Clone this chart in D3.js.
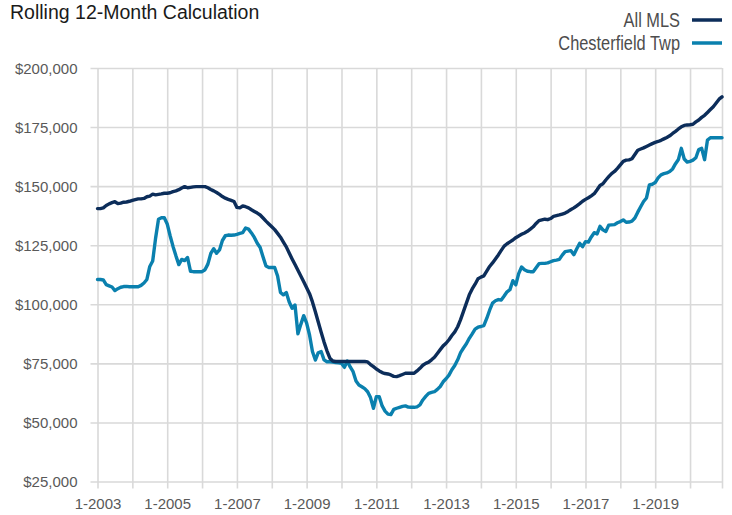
<!DOCTYPE html>
<html>
<head>
<meta charset="utf-8">
<script src="https://cdn.jsdelivr.net/npm/d3@7"></script>
<style>
	html, body { margin: 0; padding: 0; background: #fff; }
	svg { display: block; font-family: "Liberation Sans", Arial, sans-serif; }
	.title { font-size: 19.5px; fill: #1a1a1a; }
	.legend text { font-size: 20px; fill: #4d4d4d; }
	.axis text { font-size: 15px; fill: #595959; }
	.axis line { stroke: #d9d9d9; stroke-width: 1.6; }
	.axis path { display: none; }
	.series { fill: none; stroke-width: 3.4; stroke-linejoin: round; stroke-linecap: round; }
</style>
</head>
<body>
<div id="chart"></div>
<script>
// monthly values, Jan 2003 .. Dec 2020, in $ thousands
const startYear = 2003;

const allMls = [
	140.5, 140.5, 140.8, 141.8, 142.5, 143.0, 143.4, 142.6, 142.8, 143.2, 143.3, 143.6,
	144.0, 144.3, 144.6, 144.6, 144.8, 145.5, 145.8, 146.6, 146.3, 146.5, 146.7, 147.0,
	147.0, 147.2, 147.7, 148.0, 148.5, 149.2, 149.8, 149.3, 149.5, 149.7, 149.8, 149.8,
	149.8, 149.8, 149.3, 148.6, 148.0, 147.3, 146.5, 145.6, 144.9, 144.4, 144.0, 143.5,
	141.0, 140.8, 141.6, 141.3, 140.8, 140.0, 139.3, 138.6, 137.8, 136.5, 135.2, 134.0,
	132.8, 131.6, 130.0, 128.4, 126.3, 124.3, 121.7, 119.2, 116.8, 114.4, 112.0, 109.5,
	107.0, 104.5, 101.0, 96.8, 92.5, 88.2, 84.0, 80.3, 77.2, 76.0, 75.8, 75.8,
	75.8, 75.8, 75.8, 75.8, 75.8, 75.8, 75.8, 75.8, 75.8, 75.6, 74.5, 73.6,
	72.6, 71.8, 71.1, 70.7, 70.5, 70.1, 69.5, 69.4, 69.8, 70.3, 70.8, 70.8,
	70.8, 70.8, 71.8, 72.9, 74.2, 75.0, 75.5, 76.5, 77.6, 79.2, 80.8, 82.4,
	83.5, 85.0, 86.8, 88.3, 90.5, 93.5, 97.0, 100.5, 104.0, 106.5, 108.5, 110.8,
	111.5, 112.0, 114.0, 116.0, 117.5, 119.2, 120.9, 122.8, 124.6, 125.6, 126.4, 127.2,
	128.2, 128.9, 129.6, 130.2, 130.9, 131.8, 132.8, 134.2, 135.4, 135.7, 136.0, 135.8,
	136.3, 137.2, 137.5, 137.8, 138.2, 138.6, 139.3, 140.1, 140.8, 141.7, 142.6, 143.6,
	144.4, 145.1, 145.9, 146.8, 148.5, 150.3, 151.0, 152.6, 154.0, 155.3, 156.2, 157.5,
	159.0, 160.5, 161.0, 161.1, 161.6, 163.4, 165.2, 165.7, 166.2, 166.8, 167.4, 168.0,
	168.5, 168.9, 169.4, 170.0, 170.6, 171.3, 172.3, 173.2, 174.2, 175.1, 175.7, 175.9,
	176.0, 176.2, 177.2, 178.0, 179.1, 180.0, 181.2, 182.4, 183.6, 185.2, 186.8, 187.8
];

const chesterfield = [
	110.5, 110.5, 110.3, 108.3, 107.8, 107.3, 105.8, 106.6, 107.2, 107.5, 107.6, 107.4,
	107.4, 107.4, 107.4, 108.0, 109.0, 110.5, 116.0, 118.3, 128.0, 136.0, 136.6, 136.6,
	134.0, 129.0, 124.5, 120.5, 116.8, 119.0, 118.5, 119.8, 114.0, 113.8, 113.8, 113.8,
	113.8, 114.6, 117.0, 121.5, 123.5, 121.6, 123.0, 127.0, 129.0, 129.3, 129.2, 129.3,
	129.6, 130.0, 130.3, 132.3, 131.8, 130.2, 128.3, 125.8, 124.0, 120.0, 116.2, 115.6,
	115.6, 115.6, 112.0, 105.0, 104.0, 105.0, 101.0, 98.3, 99.7, 87.5, 91.5, 95.2,
	92.0, 87.0, 80.0, 76.4, 79.5, 80.0, 76.5, 75.7, 75.7, 75.5, 75.3, 75.2,
	75.0, 73.3, 76.0, 73.5, 71.5, 67.5, 65.8, 65.1, 64.3, 63.0, 60.5, 56.0,
	60.9, 60.9, 57.0, 54.8, 53.5, 53.3, 55.5, 56.0, 56.4, 56.8, 57.0, 56.5,
	56.4, 56.4, 56.6, 57.4, 59.5, 61.0, 62.3, 62.7, 63.0, 64.0, 65.2, 67.2,
	68.5, 70.0, 72.3, 74.1, 76.5, 79.5, 81.5, 83.3, 85.6, 87.5, 89.5, 90.3,
	90.6, 91.0, 94.0, 97.5, 100.5, 101.5, 102.0, 101.8, 103.5, 105.3, 106.2, 110.0,
	108.2, 113.0, 115.8, 114.6, 114.0, 113.8, 113.8, 115.5, 117.2, 117.3, 117.3, 117.5,
	118.0, 118.5, 118.7, 119.0, 120.8, 122.3, 122.5, 122.7, 121.0, 123.5, 125.8, 124.4,
	126.5, 126.3, 128.5, 130.3, 129.8, 133.0, 131.5, 130.8, 133.5, 133.6, 133.7, 134.5,
	135.0, 135.7, 134.7, 134.8, 135.2, 136.5, 139.0, 141.3, 143.5, 145.0, 150.5, 150.8,
	151.5, 153.5, 154.8, 155.3, 155.6, 156.2, 157.3, 159.5, 161.3, 166.0, 161.5, 160.2,
	160.5, 161.0, 162.0, 165.5, 166.0, 161.2, 169.5, 170.5, 170.5, 170.5, 170.5, 170.5
];

const yTicks = [25, 50, 75, 100, 125, 150, 175, 200];
const xLabelEvery = 24; // label every other January

const seriesNames = ['All MLS', 'Chesterfield Twp'];
const seriesColors = ['#0c2d5a', '#0a80ae'];

const options = {
	w: 732,
	h: 515,
	left: 97.5,
	right: 722,
	top: 68,
	bottom: 481.5
};

const svg = d3.select('#chart').append('svg')
	.attr('width', options.w)
	.attr('height', options.h);

const x = d3.scaleLinear().domain([0, allMls.length - 1]).range([options.left, options.right]);
const y = d3.scaleLinear().domain([d3.min(yTicks), d3.max(yTicks)]).range([options.bottom, options.top]);

const width = options.right - options.left,
	height = options.bottom - options.top;

// y axis + horizontal grid
const yAxis = d3.axisLeft(y).tickValues(yTicks).tickFormat(d => d3.format('$,')(d * 1000));
svg.append('g')
	.classed('axis y-axis', true)
	.attr('transform', `translate(${options.left},0)`)
	.call(g => {
		g.call(yAxis);
		g.selectAll('.tick line').attr('x1', -7).attr('x2', width);
		g.selectAll('.tick text').attr('x', -20).attr('dy', '0.35em');
	});

// x axis + vertical grid (every January, plus the right edge)
const xTicks = d3.range(0, allMls.length, 12).concat([allMls.length - 1]);
const xAxis = d3.axisBottom(x)
	.tickValues(xTicks)
	.tickFormat(i => (i % xLabelEvery === 0 && i < allMls.length - 1) ? `1-${startYear + i / 12}` : '');
svg.append('g')
	.classed('axis x-axis', true)
	.attr('transform', `translate(0,${options.bottom})`)
	.call(g => {
		g.call(xAxis);
		g.selectAll('.tick line').attr('y1', -height).attr('y2', 7);
		g.selectAll('.tick text').attr('y', 17).attr('dy', '0.71em');
	});

// lines
const line = d3.line()
	.x((d, i) => x(i))
	.y(d => y(d));

svg.append('g')
	.selectAll('path')
	.data([chesterfield, allMls])
	.enter()
	.append('path')
	.classed('series', true)
	.attr('stroke', (d, i) => seriesColors[1 - i])
	.attr('d', line);

// title
svg.append('text')
	.classed('title', true)
	.attr('x', 10)
	.attr('y', 18.5)
	.text('Rolling 12-Month Calculation');

// legend (text squeezed to match the condensed face of the original)
const legend = svg.append('g')
	.classed('legend', true)
	.selectAll('g')
	.data(seriesNames)
	.enter()
	.append('g')
	.attr('transform', (d, i) => `translate(0,${20 + i * 23})`);

legend.append('text')
	.attr('transform', 'translate(680,6.5) scale(0.82,1)')
	.attr('text-anchor', 'end')
	.text(d => d);

legend.append('line')
	.attr('x1', 692)
	.attr('x2', 722)
	.attr('stroke', (d, i) => seriesColors[i])
	.attr('stroke-width', 3.5);
</script>
</body>
</html>
